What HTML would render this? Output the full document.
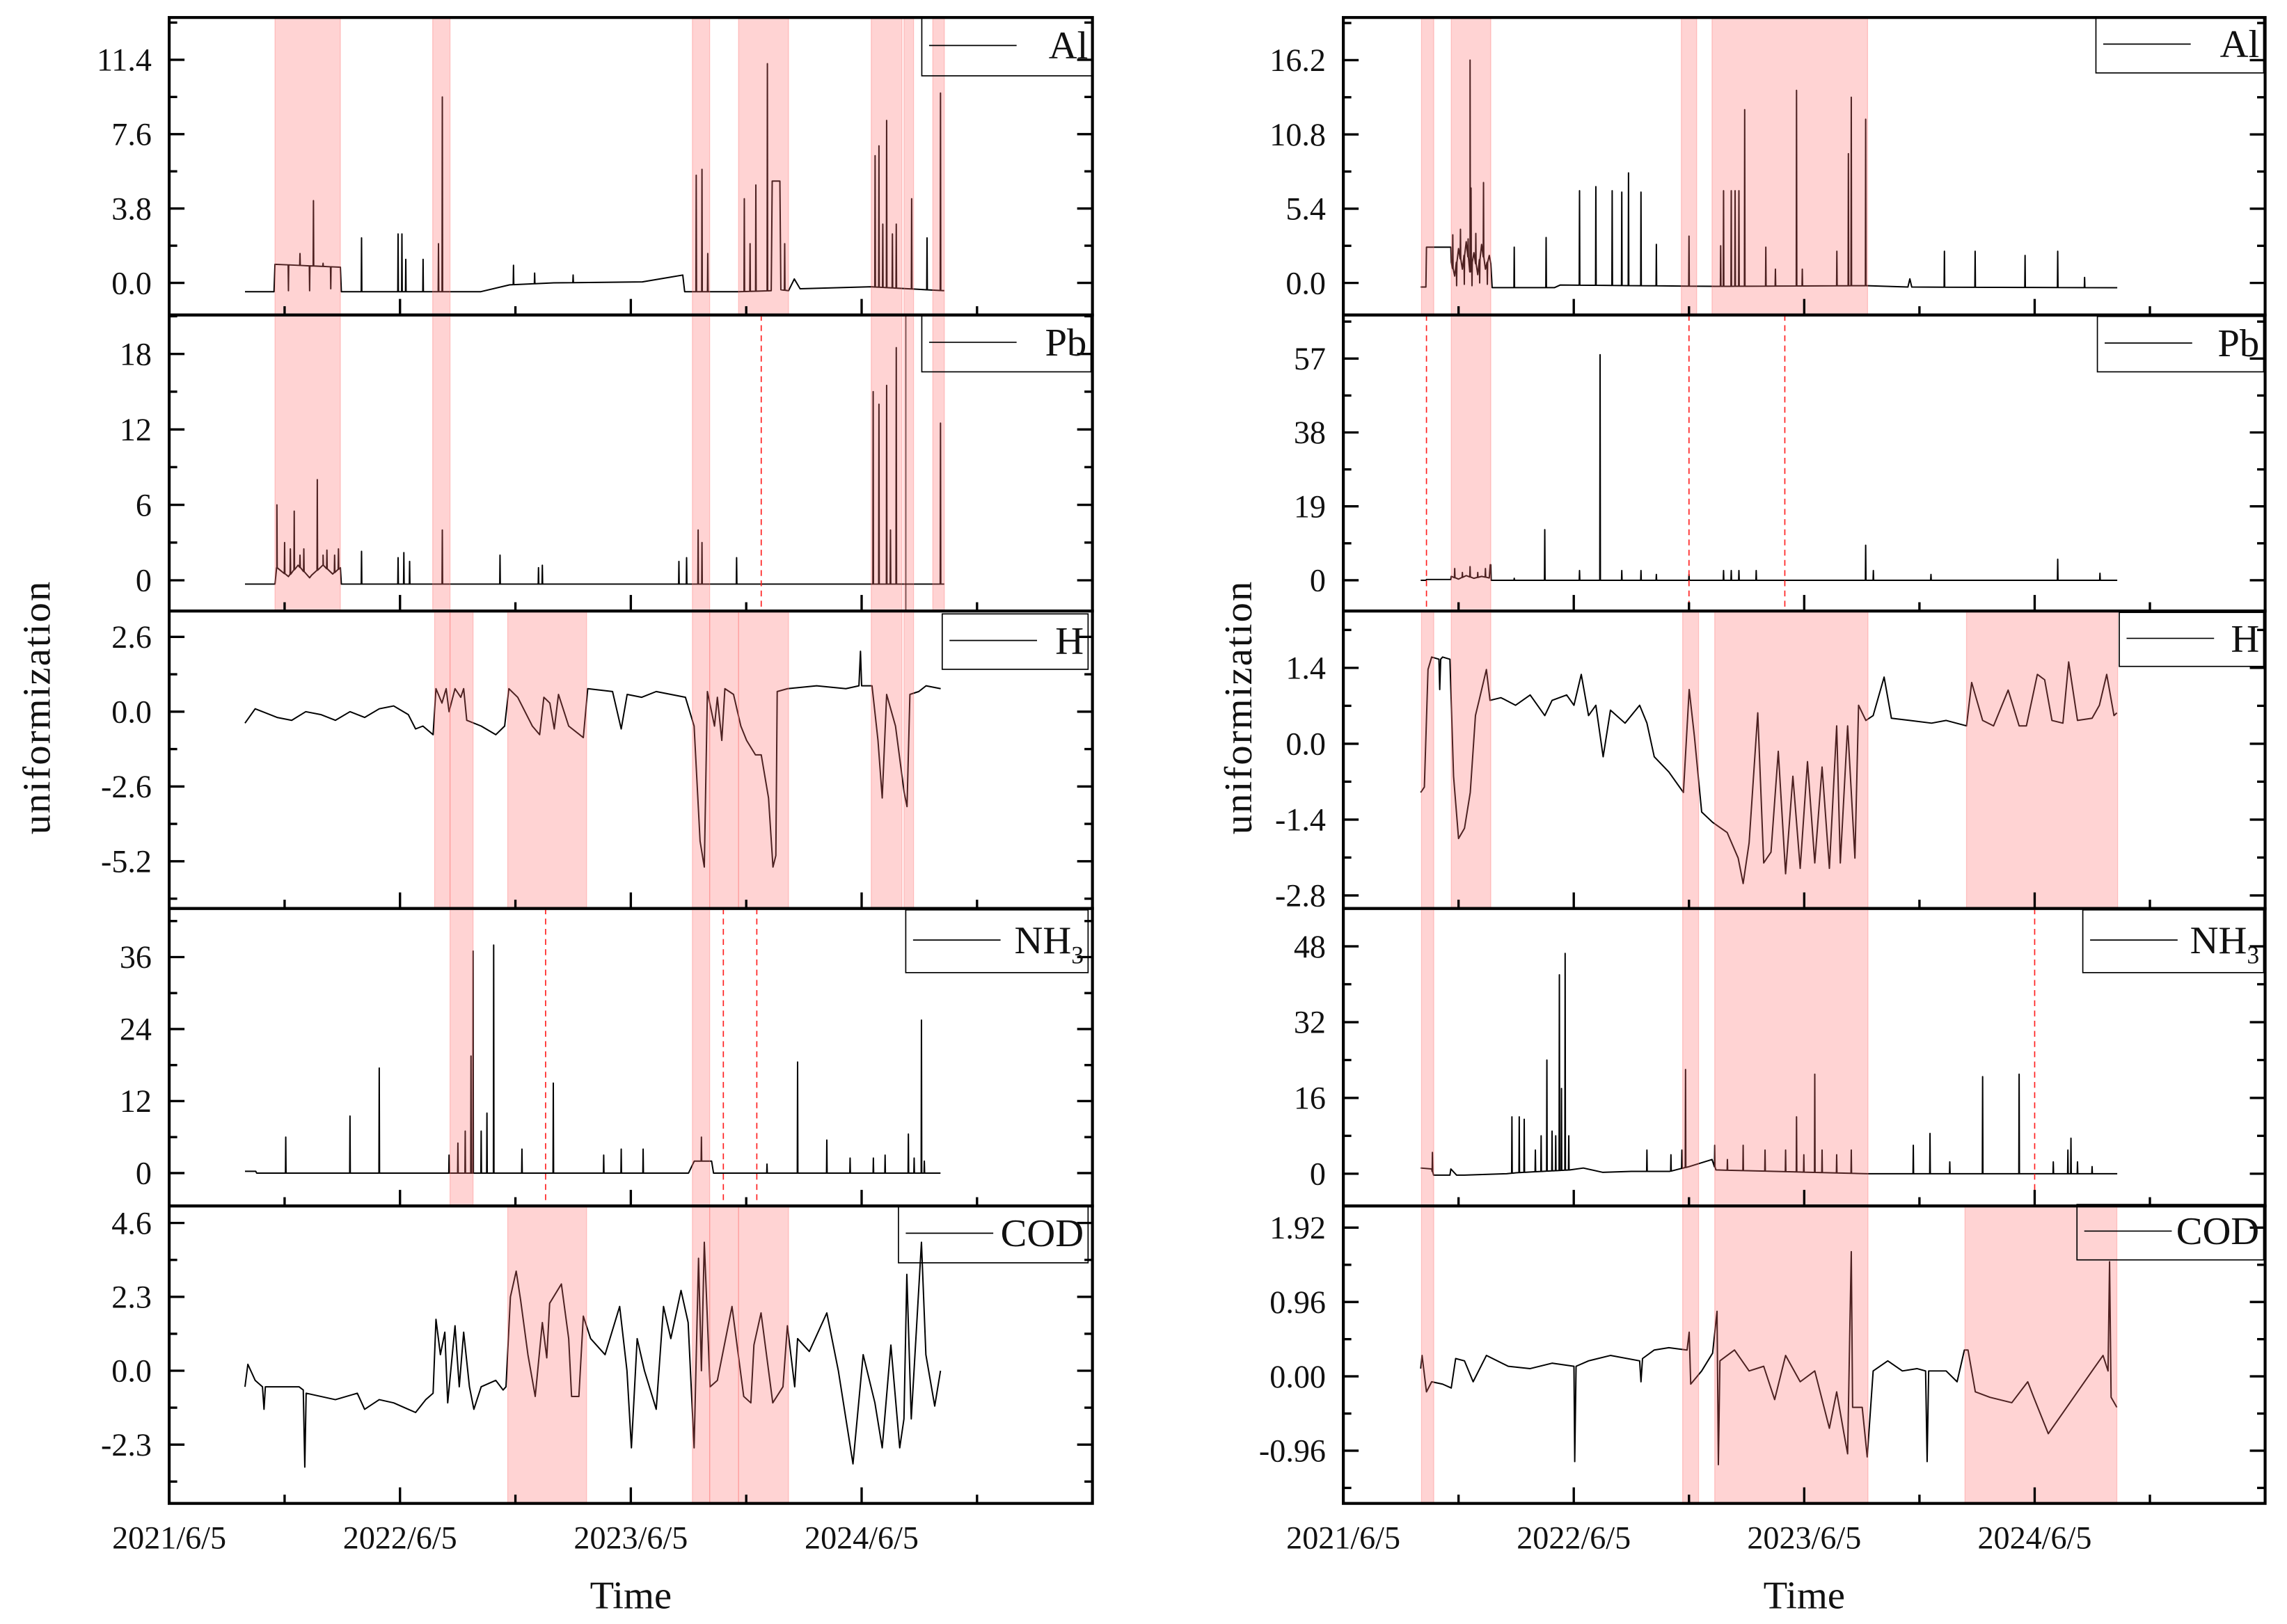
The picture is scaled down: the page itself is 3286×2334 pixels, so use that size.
<!DOCTYPE html>
<html><head><meta charset="utf-8"><title>uniformization time series</title>
<style>
html,body{margin:0;padding:0;background:#fff;}
svg{display:block;}
text{font-family:"Liberation Serif","Noto Serif CJK SC",serif;fill:#111;}
</style></head>
<body>
<svg id="chart" xmlns="http://www.w3.org/2000/svg" width="3286" height="2334" viewBox="0 0 1568 1113.7" preserveAspectRatio="none"></svg>
<script>
// ---------- DATA (time in months since 2021/6/5) ----------
const xTickLabels = ["2021/6/5","2022/6/5","2023/6/5","2024/6/5"];
const xTickMonths = [0,12,24,36];

// Left figure
const L_alBaseT = [3.94,5.45,5.5,8.9,8.95,16.2,17.7,20,24.6,26.1,26.7,26.8,29.6,31.3,31.35,31.75,31.8,32.2,32.5,32.8,36.5,40.3];
const L_alBaseV = [-0.45,-0.45,0.95,0.8,-0.45,-0.45,-0.1,0,0.05,0.3,0.4,-0.45,-0.45,-0.4,5.2,5.2,-0.35,-0.4,0.2,-0.3,-0.2,-0.4];
const L_alSpikeT = [6.2,6.8,7.3,7.5,8.0,8.4,10.0,11.9,12.1,12.3,13.2,14.0,14.2,17.9,19.0,21.0,27.4,27.7,28.0,29.9,30.2,30.5,31.1,32.0,36.7,36.9,37.1,37.3,37.6,37.8,38.6,39.4,40.1];
const L_alSpikeV = [-0.4,1.5,-0.4,4.2,1.0,-0.3,2.3,2.5,2.5,1.2,1.2,2.0,9.5,0.9,0.5,0.4,5.5,5.8,1.5,4.3,2.0,5.0,11.2,2.0,6.5,7.0,3.0,8.3,2.5,3.0,4.3,2.3,9.7];

const L_pbBaseT = [3.94,5.5,5.6,6.2,6.7,7.3,7.4,8.0,8.5,8.9,8.95,40.3];
const L_pbBaseV = [-0.3,-0.3,1.0,0.3,1.2,0.2,0.4,1.2,0.5,1.0,-0.3,-0.3];
const L_pbSpikeT = [5.6,6.0,6.3,6.5,6.8,7.0,7.7,8.0,8.2,8.6,8.8,10.0,11.9,12.2,12.5,14.2,17.2,19.2,19.4,26.5,26.9,27.5,27.7,29.5,36.6,36.9,37.3,37.5,37.8,40.1];
const L_pbSpikeV = [6,3,2.5,5.5,2,2.5,8,2,2.4,2,2.5,2.3,1.8,2.2,1.5,4,2,1,1.2,1.5,1.8,4,3,1.8,15,14,15.5,4,18.5,12.5];
const L_pbCut = [38.3];

const L_hT = [3.94,4.47,5.61,6.37,7.1,7.88,8.64,9.4,10.16,10.92,11.67,12.43,12.81,13.19,13.72,13.87,14.18,14.4,14.55,14.86,15.16,15.31,15.47,16.22,16.98,17.44,17.66,18.12,18.88,19.26,19.48,19.79,20.02,20.24,20.77,21.53,21.76,23.05,23.5,23.81,24.56,25.32,26.08,26.84,27.29,27.6,27.82,27.98,28.35,28.5,28.73,28.89,29.34,29.72,30.02,30.48,30.78,31.16,31.39,31.54,31.61,32.15,33.66,35.18,35.86,35.94,36.0,36.54,36.85,37.07,37.3,37.76,38.21,38.36,38.51,38.97,39.35,40.11];
const L_hV = [-0.4,0.1,-0.2,-0.3,0.0,-0.1,-0.3,0.0,-0.2,0.1,0.2,-0.1,-0.6,-0.5,-0.8,0.8,0.3,0.8,0.0,0.8,0.5,0.8,-0.3,-0.5,-0.8,-0.5,0.8,0.5,-0.5,-0.8,0.5,0.3,-0.6,0.6,-0.5,-0.9,0.8,0.7,-0.6,0.6,0.5,0.7,0.6,0.5,-0.5,-4.5,-5.4,0.7,-0.5,0.5,-1.0,0.8,0.6,-0.5,-1.0,-1.5,-1.5,-3.0,-5.4,-5.0,0.7,0.8,0.9,0.8,0.9,2.1,0.9,0.9,-1.0,-3.0,0.6,-0.5,-2.8,-3.3,0.6,0.7,0.9,0.8];

const L_nhBaseT = [3.94,4.5,4.55,27.0,27.3,28.2,28.3,40.1];
const L_nhBaseV = [0.3,0.3,0,0,2,2,0,0];
const L_nhSpikeT = [6.06,9.4,10.92,14.55,15.01,15.39,15.69,15.8,16.22,16.52,16.87,18.34,19.97,22.59,23.5,24.64,27.67,31.08,32.67,34.19,35.4,36.61,37.22,38.43,38.73,39.11,39.26];
const L_nhSpikeV = [6,9.5,17.5,3,5,7,19.5,37,7,10,38,4,15,3,4,4,6,1.5,18.5,5.5,2.5,2.5,3,6.5,2.5,25.5,2];

const L_codT = [3.94,4.09,4.47,4.85,4.93,5.0,5.61,6.75,6.97,7.05,7.12,8.64,9.78,10.16,10.92,11.67,12.43,12.81,13.34,13.72,13.87,14.1,14.33,14.48,14.86,15.08,15.31,15.61,15.84,16.22,16.98,17.36,17.51,17.74,18.04,18.27,18.65,19.03,19.4,19.63,19.78,20.39,20.77,20.92,21.3,21.53,21.91,22.66,23.42,23.8,24.03,24.33,24.71,25.32,25.7,26.08,26.61,26.98,27.29,27.52,27.67,27.82,28.12,28.5,29.26,29.87,30.24,30.4,30.77,31.38,31.91,32.14,32.52,32.67,33.28,34.19,34.79,35.55,36.08,36.69,37.07,37.52,37.98,38.2,38.35,38.58,39.11,39.34,39.8,40.1];
const L_codV = [-0.5,0.2,-0.3,-0.5,-1.2,-0.5,-0.5,-0.5,-0.6,-3.0,-0.7,-0.9,-0.7,-1.2,-0.9,-1.0,-1.2,-1.3,-0.9,-0.7,1.6,0.5,1.2,-1.0,1.4,-0.5,1.2,-0.5,-1.2,-0.5,-0.3,-0.6,-0.5,2.3,3.1,2.2,0.5,-0.8,1.5,0.4,2.1,2.7,1.0,-0.8,-0.8,1.7,1.0,0.5,2.0,0.0,-2.4,1.0,0.0,-1.2,2.0,1.0,2.5,1.5,-2.4,3.5,0.0,4.0,-0.5,-0.3,2.0,-0.8,-1.0,0.8,1.8,-1.0,-0.5,1.4,-0.5,1.0,0.6,1.8,0.0,-2.9,0.5,-1.0,-2.4,0.8,-2.4,-1.5,3.0,-1.5,4.0,0.5,-1.1,0.0];

// Right figure
const R_alBaseT = [4.03,4.3,4.33,5.6,5.62,5.8,6.0,6.2,6.4,6.6,6.8,7.0,7.2,7.4,7.6,7.68,7.75,11.0,11.3,19.4,27.3,29.4,29.5,29.6,40.3];
const R_alBaseV = [-0.3,-0.3,2.6,2.6,1.5,0.5,2.5,1.0,3.0,0.8,2.2,0.6,2.8,1.0,2.0,1.4,-0.34,-0.34,-0.15,-0.25,-0.2,-0.3,0.3,-0.3,-0.35];
const R_alSpikeT = [5.7,5.9,6.1,6.3,6.5,6.6,6.65,6.7,6.9,7.1,7.3,7.5,8.9,10.56,12.3,13.15,14.0,14.5,14.85,15.5,16.3,18.0,19.65,19.8,20.2,20.4,20.6,20.9,22.0,22.5,23.6,23.9,25.7,26.3,26.45,27.2,31.3,32.9,35.5,37.2,38.6];
const R_alSpikeV = [3.5,-0.2,3.9,-0.1,3.2,16.2,6.9,-0.2,3.6,0,7.3,-0.1,2.6,3.3,6.7,7.0,6.7,6.6,8.0,6.6,2.8,3.4,2.7,6.7,6.7,6.7,6.7,12.6,2.6,1.0,14.0,1.0,2.3,9.4,13.5,11.9,2.3,2.3,2.0,2.3,0.4];

const R_pbBaseT = [4.03,4.3,4.33,5.6,5.62,6.0,6.4,6.8,7.2,7.6,7.65,7.68,7.7,40.3];
const R_pbBaseV = [0,0,0.2,0.2,1.0,0.3,1.2,0.5,1.0,0.6,4,4,0,0];
const R_pbSpikeT = [5.8,6.2,6.6,7.0,7.4,8.9,10.49,12.3,13.37,14.5,15.5,16.3,18.0,19.8,20.2,20.6,21.5,27.2,27.6,30.6,37.2,39.4];
const R_pbSpikeV = [3,2,3.5,2,3,0.5,13,2.5,58,2.5,2.5,1.5,1.5,2.5,2.5,2.5,2.5,9,2.5,1.5,5.4,1.8];

const R_hT = [4.03,4.22,4.41,4.6,4.98,5.02,5.07,5.17,5.55,5.74,6.0,6.31,6.61,6.88,7.07,7.45,7.64,8.21,8.97,9.73,10.49,10.87,11.63,12.01,12.39,12.77,13.15,13.53,13.91,14.67,15.43,15.81,16.19,16.95,17.71,18.01,18.28,18.66,19.23,19.99,20.56,20.82,21.13,21.58,21.89,22.27,22.65,23.03,23.41,23.79,24.17,24.55,24.93,25.31,25.69,25.88,26.26,26.64,26.83,27.21,27.59,28.16,28.54,29.49,30.63,31.39,32.45,32.72,33.29,33.86,34.62,35.19,35.57,36.14,36.52,36.9,37.47,37.77,38.23,38.99,39.37,39.75,40.13,40.28];
const R_hV = [-0.9,-0.8,1.37,1.6,1.56,1.0,1.56,1.6,1.56,-0.6,-1.75,-1.56,-0.9,0.52,0.8,1.37,0.8,0.85,0.71,0.9,0.52,0.8,0.9,0.71,1.28,0.52,0.71,-0.24,0.62,0.38,0.71,0.38,-0.24,-0.52,-0.9,1.0,0.14,-1.26,-1.45,-1.64,-2.11,-2.58,-1.83,0.57,-2.2,-2.0,-0.14,-2.4,-0.6,-2.3,-0.33,-2.2,-0.43,-2.3,0.33,-2.2,0.33,-2.11,0.71,0.43,0.52,1.23,0.47,0.43,0.38,0.43,0.33,1.13,0.43,0.33,0.99,0.33,0.33,1.28,1.18,0.43,0.38,1.51,0.43,0.47,0.71,1.28,0.52,0.57];

const R_nhBaseT = [4.03,4.6,4.7,5.55,5.6,5.9,6.3,8.5,9.0,11.8,12.5,13.5,15.0,17.0,18.0,19.2,19.4,27.3,40.3];
const R_nhBaseV = [1.2,1.0,-0.3,-0.3,1.0,-0.3,-0.3,0,0.2,0.8,1.2,0.3,0.5,0.5,1.5,3,0.8,0,0];
const R_nhSpikeT = [4.64,8.78,9.16,9.42,10.0,10.3,10.6,10.87,11.06,11.25,11.36,11.55,11.74,15.81,17.06,17.63,17.82,19.34,20.0,20.82,21.96,23.03,23.6,23.98,24.55,24.93,25.69,26.45,29.68,30.55,31.58,33.29,35.19,36.97,37.73,37.89,38.23,38.99];
const R_nhSpikeV = [4.5,12,12,11.5,5,8,24,9,8,42,18,46.5,8,5,4,5,22,6,3,6,5,5,12,4,21,5,4,5,6,8.5,2.5,20.5,21,2.5,5,7.5,2.5,1.5];

const R_codT = [4.03,4.1,4.33,4.6,5.17,5.62,5.85,6.31,6.76,7.45,8.59,9.73,10.87,12.01,12.05,12.12,12.77,13.91,15.43,15.5,15.58,16.19,16.95,17.9,18.01,18.09,18.66,19.23,19.46,19.53,19.61,20.37,21.13,21.89,22.46,23.03,23.79,24.55,25.31,25.69,26.07,26.26,26.37,26.45,26.52,27.02,27.28,27.59,28.35,29.11,29.87,30.32,30.4,30.48,31.39,31.96,32.34,32.53,32.91,33.67,34.81,35.64,35.95,36.71,37.47,38.23,38.99,39.56,39.82,39.9,39.98,40.28];
const R_codV = [0.10,0.27,-0.20,-0.07,-0.10,-0.15,0.23,0.20,-0.07,0.27,0.13,0.10,0.17,0.13,-1.1,0.13,0.20,0.27,0.20,-0.07,0.23,0.34,0.37,0.34,0.57,-0.10,0.07,0.30,0.84,-1.14,0.20,0.34,0.07,0.13,-0.30,0.27,-0.07,0.07,-0.67,-0.20,-0.74,-1.0,0.54,1.61,-0.40,-0.40,-1.04,0.07,0.20,0.07,0.10,0.07,-1.1,0.07,0.07,-0.07,0.34,0.34,-0.20,-0.27,-0.34,-0.07,-0.27,-0.74,-0.47,-0.20,0.07,0.27,0.07,1.48,-0.27,-0.40];

// Shaded anomaly bands [start, end] in months
const L_bands = {
  al:[[5.5,8.9],[13.7,14.6],[27.2,28.1],[29.6,32.2],[36.5,38.1],[38.2,38.7],[39.7,40.3]],
  pb:[[5.5,8.9],[13.7,14.6],[27.2,28.1],[36.5,38.1],[38.2,38.7],[39.7,40.3]],
  h:[[13.8,14.6],[14.6,15.8],[17.6,21.7],[27.2,28.1],[28.1,29.6],[29.6,32.2],[36.5,38.1],[38.2,38.7]],
  nh:[[14.6,15.8],[27.2,28.1]],
  cod:[[17.6,21.7],[27.2,28.1],[28.1,29.6],[29.6,32.2]]
};
const R_bands = {
  al:[[4.07,4.71],[5.62,7.68],[17.6,18.4],[19.2,27.3]],
  pb:[[5.62,7.68]],
  h:[[4.07,4.71],[5.62,7.68],[17.67,18.5],[19.34,27.32],[32.45,40.32]],
  nh:[[4.07,4.71],[17.67,18.5],[19.34,27.32]],
  cod:[[4.07,4.71],[17.67,18.5],[19.34,27.32],[32.37,40.28]]
};
// Red dashed marker lines (months)
const L_dash = {al:[],pb:[30.78],h:[],nh:[19.57,28.81,30.55],cod:[]};
const R_dash = {al:[],pb:[4.33,18.0,22.99],h:[],nh:[36.0],cod:[]};

// Y-axis ticks
const L_ticks = {al:[0,3.8,7.6,11.4],pb:[0,6,12,18],h:[-5.2,-2.6,0,2.6],nh:[0,12,24,36],cod:[-2.3,0,2.3,4.6]};
const L_tickLabels = {al:["0.0","3.8","7.6","11.4"],pb:["0","6","12","18"],h:["-5.2","-2.6","0.0","2.6"],nh:["0","12","24","36"],cod:["-2.3","0.0","2.3","4.6"]};
const R_ticks = {al:[0,5.4,10.8,16.2],pb:[0,19,38,57],h:[-2.8,-1.4,0,1.4],nh:[0,16,32,48],cod:[-0.96,0,0.96,1.92]};
const R_tickLabels = {al:["0.0","5.4","10.8","16.2"],pb:["0","19","38","57"],h:["-2.8","-1.4","0.0","1.4"],nh:["0","16","32","48"],cod:["-0.96","0.00","0.96","1.92"]};
const L_domain = {al:[-1.64,13.56],pb:[-2.44,21.1],h:[-6.84,3.5],nh:[-5.47,44.1],cod:[-4.13,5.13]};
const R_domain = {al:[-2.33,19.3],pb:[-7.9,68.2],h:[-3.04,2.45],nh:[-6.8,56],cod:[-1.64,2.2]};

// ---------- RENDER ----------
const NS = "http://www.w3.org/2000/svg";
const svg = document.getElementById("chart");
function mk(tag, attrs, parent){
  const e = document.createElementNS(NS, tag);
  for (const k in attrs) e.setAttribute(k, attrs[k]);
  (parent||svg).appendChild(e);
  return e;
}
const panelTops = [12,216,419,623,827];
const panelBottom = 1031;
const keys = ["al","pb","h","nh","cod"];
const legendNames = ["Al","Pb","H","NH","COD"];

function interp(ts, vs, t){
  if (t <= ts[0]) return vs[0];
  for (let i=1;i<ts.length;i++){
    if (t <= ts[i]){ const f=(t-ts[i-1])/(ts[i]-ts[i-1]); return vs[i-1]+f*(vs[i]-vs[i-1]); }
  }
  return vs[vs.length-1];
}
function buildPoints(bt, bv, st, sv){
  const pts = bt.map((t,i)=>[t,bv[i],0]);
  if (st){
    st.forEach((t,i)=>{
      const b = interp(bt,bv,t);
      pts.push([t-0.015,b,1]); pts.push([t,sv[i],2]); pts.push([t+0.015,b,3]);
    });
  }
  pts.sort((a,b)=>a[0]-b[0] || a[2]-b[2]);
  return pts;
}

function drawFigure(side, x0, x1, seriesDefs, bands, dashes, ticks, tickLabels, domains, legendBoxes, ylabelX){
  const xScale = m => x0 + (m/48)*(x1-x0);
  const g = mk("g",{});
  
  
  keys.forEach((k,pi)=>{
    const top = panelTops[pi];
    const bot = pi<4 ? panelTops[pi+1] : panelBottom;
    const [d0,d1] = domains[k];
    const yScale = v => bot - (v-d0)/(d1-d0)*(bot-top);
    const pg = mk("g",{},g);
    
    
    const clipId = side+"clip"+k;
    const cp = mk("clipPath",{id:clipId},pg);
    mk("rect",{x:x0,y:top,width:x1-x0,height:bot-top},cp);
    const def = seriesDefs[k];
    const pts = buildPoints(def[0],def[1],def[2],def[3]);
    const d = pts.map((p,i)=>(i?"L":"M")+xScale(p[0]).toFixed(2)+" "+yScale(p[1]).toFixed(2)).join(" ");
    const line = mk("path",{d:d,fill:"none",stroke:"#000","stroke-width":0.95,"stroke-linejoin":"round","clip-path":"url(#"+clipId+")"},pg);
    
    
    if (def[4]){
      def[4].forEach(t=>{
        const cut = mk("line",{x1:xScale(t),x2:xScale(t),y1:top,y2:bot,stroke:"#000","stroke-width":0.6},pg);
        
        
      });
    }
    bands[k].forEach(b=>{
      const r = mk("rect",{x:xScale(b[0]),y:top,width:xScale(b[1])-xScale(b[0]),height:bot-top,fill:"rgba(255,110,110,0.30)",stroke:"rgba(255,110,110,0.35)","stroke-width":0.6},pg);
      
      
    });
    dashes[k].forEach(t=>{
      const dl = mk("line",{x1:xScale(t),x2:xScale(t),y1:top,y2:bot,stroke:"#ff2020","stroke-width":0.8,"stroke-dasharray":"4 3"},pg);
      
      
    });
    const tv = ticks[k];
    const step = tv[1]-tv[0];
    for (let v = tv[0]-4*step; v <= d1+1e-9; v += step/2){
      if (v < d0) continue;
      const isMajor = Math.abs(((v-tv[0])/step) - Math.round((v-tv[0])/step)) < 1e-6;
      const len = isMajor ? 10.5 : 5.5;
      const y = yScale(v);
      mk("line",{x1:x0,x2:x0+len,y1:y,y2:y,stroke:"#000","stroke-width":1.6},pg);
      mk("line",{x1:x1,x2:x1-len,y1:y,y2:y,stroke:"#000","stroke-width":1.6},pg);
    }
    tv.forEach((v,i)=>{
      const t = mk("text",{x:x0-12,y:yScale(v)+7.5,"text-anchor":"end","font-size":22},pg);
      t.textContent = tickLabels[k][i];
      
      
    });
    for (let m=0;m<=48;m+=6){
      const major = m%12===0;
      const x = xScale(m);
      mk("line",{x1:x,x2:x,y1:bot,y2:bot-(major?11:6),stroke:"#000","stroke-width":1.6},pg);
    }
    const fr = mk("rect",{x:x0,y:top,width:x1-x0,height:bot-top,fill:"none",stroke:"#000","stroke-width":2},pg);
    
    
    const lb = legendBoxes[pi];
    const lg = mk("g",{},pg);
    
    
    mk("rect",{x:lb[0],y:lb[1],width:lb[2]-lb[0],height:lb[3]-lb[1],fill:"none",stroke:"#000","stroke-width":0.8},lg);
    const ly = lb[1]+(lb[3]-lb[1])*0.48;
    mk("line",{x1:lb[0]+5,x2:lb[0]+65,y1:ly,y2:ly,stroke:"#000","stroke-width":0.8},lg);
    const lt = mk("text",{x:lb[2]-3,y:ly+9,"text-anchor":"end","font-size":27},lg);
    lt.textContent = legendNames[pi];
    if (k==="nh"){
      const sub = mk("tspan",{"font-size":17,dy:7},lt);
      sub.textContent = "3";
    }
  });
  xTickMonths.forEach((m,i)=>{
    const t = mk("text",{x:xScale(m),y:1062,"text-anchor":"middle","font-size":22},g);
    t.textContent = xTickLabels[i];
    
    
  });
  const xt = mk("text",{x:(x0+x1)/2,y:1103,"text-anchor":"middle","font-size":27},g);
  xt.textContent = "Time";
  
  
  const yt = mk("text",{x:0,y:0,"text-anchor":"middle","font-size":27,transform:"translate("+ylabelX+",485) rotate(-90)","letter-spacing":"1"},g);
  yt.textContent = "uniformization";
  
  
}

drawFigure("left",116,749,
  {al:[L_alBaseT,L_alBaseV,L_alSpikeT,L_alSpikeV],
   pb:[L_pbBaseT,L_pbBaseV,L_pbSpikeT,L_pbSpikeV,L_pbCut],
   h:[L_hT,L_hV],
   nh:[L_nhBaseT,L_nhBaseV,L_nhSpikeT,L_nhSpikeV],
   cod:[L_codT,L_codV]},
  L_bands, L_dash, L_ticks, L_tickLabels, L_domain,
  [[632,12,749,52],[632,216,748,255],[646,421,746,459],[621,624,746,667],[616,827,746,866]], 34);

drawFigure("right",921,1553,
  {al:[R_alBaseT,R_alBaseV,R_alSpikeT,R_alSpikeV],
   pb:[R_pbBaseT,R_pbBaseV,R_pbSpikeT,R_pbSpikeV],
   h:[R_hT,R_hV],
   nh:[R_nhBaseT,R_nhBaseV,R_nhSpikeT,R_nhSpikeV],
   cod:[R_codT,R_codV]},
  R_bands, R_dash, R_ticks, R_tickLabels, R_domain,
  [[1437,12,1552,50],[1438,217,1552,255],[1453,420,1552,457],[1428,624,1552,667],[1424,826,1552,864]], 858);
</script>
</body></html>
